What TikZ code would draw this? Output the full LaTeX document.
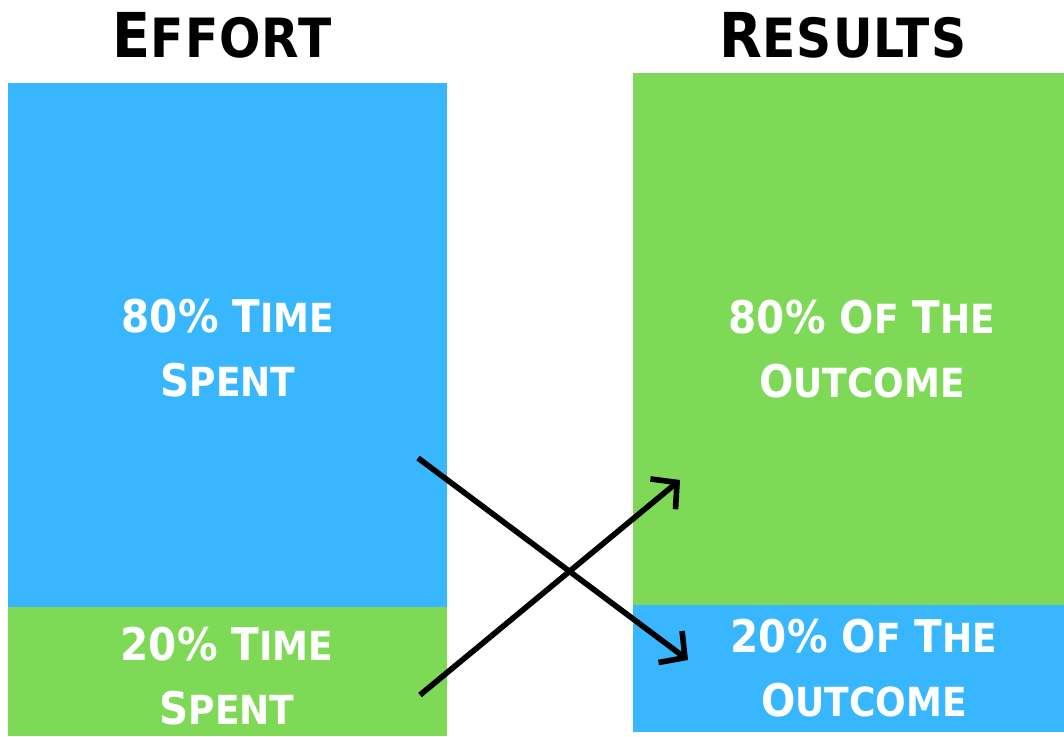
\documentclass[tikz,border=0pt]{standalone}
\usepackage{fontspec}
\setmainfont{DejaVu Sans Condensed}
\usepackage{tikz}
\usetikzlibrary{arrows.meta}

\definecolor{effblue}{HTML}{38B6FF}
\definecolor{resgreen}{HTML}{7ED957}
% smaller capitals for the rest of each word
\newcommand{\hlc}[1]{{\fontsize{38.5}{50}\selectfont #1}}
\newcommand{\lc}[1]{{\fontsize{28.5}{46}\selectfont #1}}

\tikzset{
  bar/.style={rectangle,draw=none,inner sep=0pt,outer sep=0pt},
  heading/.style={font=\bfseries\fontsize{44}{50}\selectfont\addfontfeature{LetterSpace=2},text=black},
  barlabel/.style={font=\bfseries\fontsize{32}{46}\selectfont,text=white,align=center,inner sep=0pt},
  swaparrow/.style={line width=4pt,-{Straight Barb[length=13pt,width=28pt]}}
}

\begin{document}
\begin{tikzpicture}[x=0.025cm,y=-0.025cm]
\useasboundingbox (0,0) rectangle (1064,736);
\draw (222,35) node[heading] (effort) {E\hlc{FFORT}};
\draw (843,35) node[heading] (results) {R\hlc{ESULTS}};

  \draw (227.5,345) node[bar,fill=effblue,minimum width=10.975cm,minimum height=13.1cm] (effbig) {};
  \draw (227.5,671.5) node[bar,fill=resgreen,minimum width=10.975cm,minimum height=3.225cm] (effsmall) {};
  \draw (848.5,339) node[bar,fill=resgreen,minimum width=10.775cm,minimum height=13.3cm] (resbig) {};
  \draw (848.5,668.5) node[bar,fill=effblue,minimum width=10.775cm,minimum height=3.175cm] (ressmall) {};

  \draw (228,348) node[barlabel] (time80) {80\% T\lc{IME}\\S\lc{PENT}};
  \draw (227,676) node[barlabel] (time20) {20\% T\lc{IME}\\S\lc{PENT}};
  \draw (862,349) node[barlabel] (out80) {80\% O\lc{F} T\lc{HE}\\O\lc{UTCOME}};
  \draw (864,668) node[barlabel] (out20) {20\% O\lc{F} T\lc{HE}\\O\lc{UTCOME}};

  \coordinate (fromtop) at (418,458);
  \coordinate (tobottom) at (688,660);
  \coordinate (frombottom) at (420,695);
  \coordinate (totop) at (680,480);

     \path[swaparrow] (fromtop) edge (tobottom);
     \path[swaparrow] (frombottom) edge (totop);

\end{tikzpicture}
\end{document}
